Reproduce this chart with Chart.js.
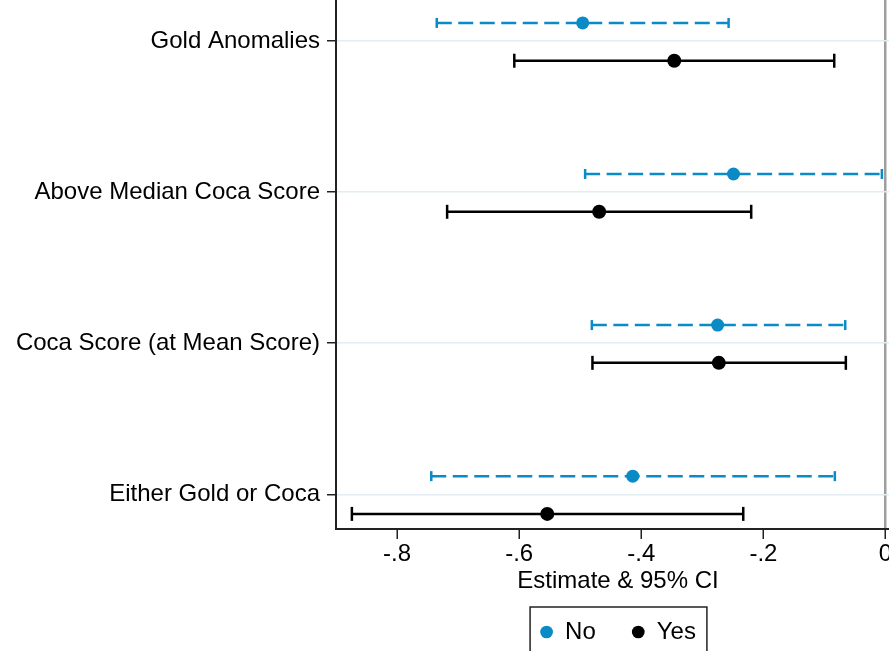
<!DOCTYPE html>
<html>
<head>
<meta charset="utf-8">
<title>Estimate &amp; 95% CI</title>
<script src="https://cdn.jsdelivr.net/npm/chart.js@4.4.1/dist/chart.umd.min.js"></script>
<style>
  html, body { margin: 0; padding: 0; background: #fff; overflow: hidden; }
  #wrap { width: 900px; height: 660px; }
</style>
</head>
<body>
<div id="wrap"><canvas id="coefPlot" width="900" height="660"></canvas></div>
<script>
// ---- data ----
const categories = ['Gold Anomalies', 'Above Median Coca Score', 'Coca Score (at Mean Score)', 'Either Gold or Coca'];
const seriesNames = ['No', 'Yes'];

const noEst = [-0.496, -0.249, -0.275, -0.414];
const noLo  = [-0.735, -0.492, -0.481, -0.744];
const noHi  = [-0.257, -0.006, -0.066, -0.083];

const yesEst = [-0.346, -0.469, -0.273, -0.554];
const yesLo  = [-0.608, -0.718, -0.480, -0.874];
const yesHi  = [-0.084, -0.220, -0.065, -0.233];

const xTicks = [-0.8, -0.6, -0.4, -0.2, 0];

// ---- style ----
const BLUE = '#0b8bc6';
const BLACK = '#000000';
const AXIS = '#222222';
const FONT = "'Liberation Sans', Arial, Helvetica, sans-serif";
const NO_SHIFT = -0.12;   // series sit just above / below the category line
const YES_SHIFT = 0.13;

// CI as line segments lo -> hi, broken by an empty point
const ciSegments = (lo, hi, shift) => {
    const pts = [];
    categories.forEach((c, i) => {
        pts.push({ x: lo[i], y: i + 1 + shift }, { x: hi[i], y: i + 1 + shift }, { x: null, y: null });
    });
    return pts;
};
const estPoints = (est, shift) => categories.map((c, i) => ({ x: est[i], y: i + 1 + shift }));

// centre legend under the plot area and draw the box round it
const legendFrame = {
    id: 'legendFrame',
    afterLayout(chart) {
        const lg = chart.legend, ca = chart.chartArea;
        lg.left = ca.left;
        lg.right = ca.right;
        lg.width = ca.right - ca.left;
    },
    afterDraw(chart) {
        const hb = chart.legend.legendHitBoxes;
        if (!hb || !hb.length) return;
        const first = hb[0], last = hb[hb.length - 1];
        const ctx = chart.ctx;
        ctx.save();
        ctx.strokeStyle = AXIS;
        ctx.lineWidth = 1.5;
        const l = first.left - 10, r = last.left + last.width + 11;
        const t = first.top - 13, b = first.top + first.height + 13;
        ctx.strokeRect(l, t, r - l, b - t);
        ctx.restore();
    }
};

new Chart(document.getElementById('coefPlot'), {
    type: 'line',
    data: {
        datasets: [
            {
                label: seriesNames[0],
                data: estPoints(noEst, NO_SHIFT),
                showLine: false,
                pointStyle: 'circle',
                pointRadius: 6.5,
                pointBorderWidth: 0,
                pointBackgroundColor: BLUE,
                backgroundColor: BLUE,
                borderColor: BLUE,
                borderWidth: 0,
                order: 0
            },
            {
                label: seriesNames[1],
                data: estPoints(yesEst, YES_SHIFT),
                showLine: false,
                pointStyle: 'circle',
                pointRadius: 7,
                pointBorderWidth: 0,
                pointBackgroundColor: BLACK,
                backgroundColor: BLACK,
                borderColor: BLACK,
                borderWidth: 0,
                order: 0
            },
            {
                label: '',
                data: ciSegments(noLo, noHi, NO_SHIFT),
                borderColor: BLUE,
                borderWidth: 2.5,
                borderDash: [15, 6.5],
                spanGaps: false,
                pointStyle: 'line',
                rotation: 90,
                pointRadius: 5,
                pointBorderWidth: 2.5,
                pointBorderColor: BLUE,
                order: 1
            },
            {
                label: '',
                data: ciSegments(yesLo, yesHi, YES_SHIFT),
                borderColor: BLACK,
                borderWidth: 2.5,
                spanGaps: false,
                pointStyle: 'line',
                rotation: 90,
                pointRadius: 7,
                pointBorderWidth: 2.5,
                pointBorderColor: BLACK,
                order: 1
            }
        ]
    },
    options: {
        responsive: false,
        animation: false,
        events: [],
        layout: { autoPadding: false, padding: { left: 0, right: 0, top: 0, bottom: 6 } },
        scales: {
            x: {
                type: 'linear',
                min: -0.9,
                max: 0.0237,
                afterBuildTicks: (scale) => { scale.ticks = xTicks.map(v => ({ value: v })); },
                afterFit: (scale) => { scale.height = 55; scale.paddingLeft = 0; scale.paddingRight = 0; },
                ticks: {
                    padding: 1,
                    color: '#000',
                    font: { family: FONT, size: 24 },
                    maxRotation: 0,
                    callback: (v) => v === 0 ? '0' : String(v).replace('0.', '.')
                },
                grid: {
                    drawOnChartArea: true,
                    color: (c) => (c.tick && c.tick.value === 0) ? '#9e9e9e' : 'rgba(0,0,0,0)',
                    lineWidth: 2.5,
                    drawTicks: true,
                    tickLength: 10,
                    tickWidth: 1.5,
                    tickColor: AXIS
                },
                border: { display: true, color: AXIS, width: 2 },
                title: {
                    display: true,
                    text: 'Estimate & 95% CI',
                    color: '#000',
                    font: { family: FONT, size: 24 },
                    padding: { top: 0, bottom: -11.4 }
                }
            },
            y: {
                type: 'linear',
                reverse: true,
                min: 0.728,
                max: 4.23,
                afterBuildTicks: (scale) => { scale.ticks = categories.map((c, i) => ({ value: i + 1 })); },
                afterFit: (scale) => { scale.width = 336; scale.paddingTop = 0; scale.paddingBottom = 0; },
                ticks: {
                    padding: 7,
                    color: '#000',
                    font: { family: FONT, size: 24 },
                    callback: (v) => categories[v - 1] || ''
                },
                grid: {
                    color: '#e2edf1',
                    lineWidth: 1.5,
                    drawTicks: true,
                    tickLength: 9,
                    tickWidth: 1.5,
                    tickColor: AXIS
                },
                border: { display: true, color: AXIS, width: 2 }
            }
        },
        plugins: {
            tooltip: { enabled: false },
            legend: {
                position: 'bottom',
                labels: {
                    usePointStyle: true,
                    pointStyle: 'circle',
                    boxWidth: 13,
                    boxHeight: 9,
                    padding: 36,
                    color: '#000',
                    font: { family: FONT, size: 24 },
                    filter: (item) => item.text !== ''
                }
            }
        }
    },
    plugins: [legendFrame]
});
</script>
</body>
</html>
